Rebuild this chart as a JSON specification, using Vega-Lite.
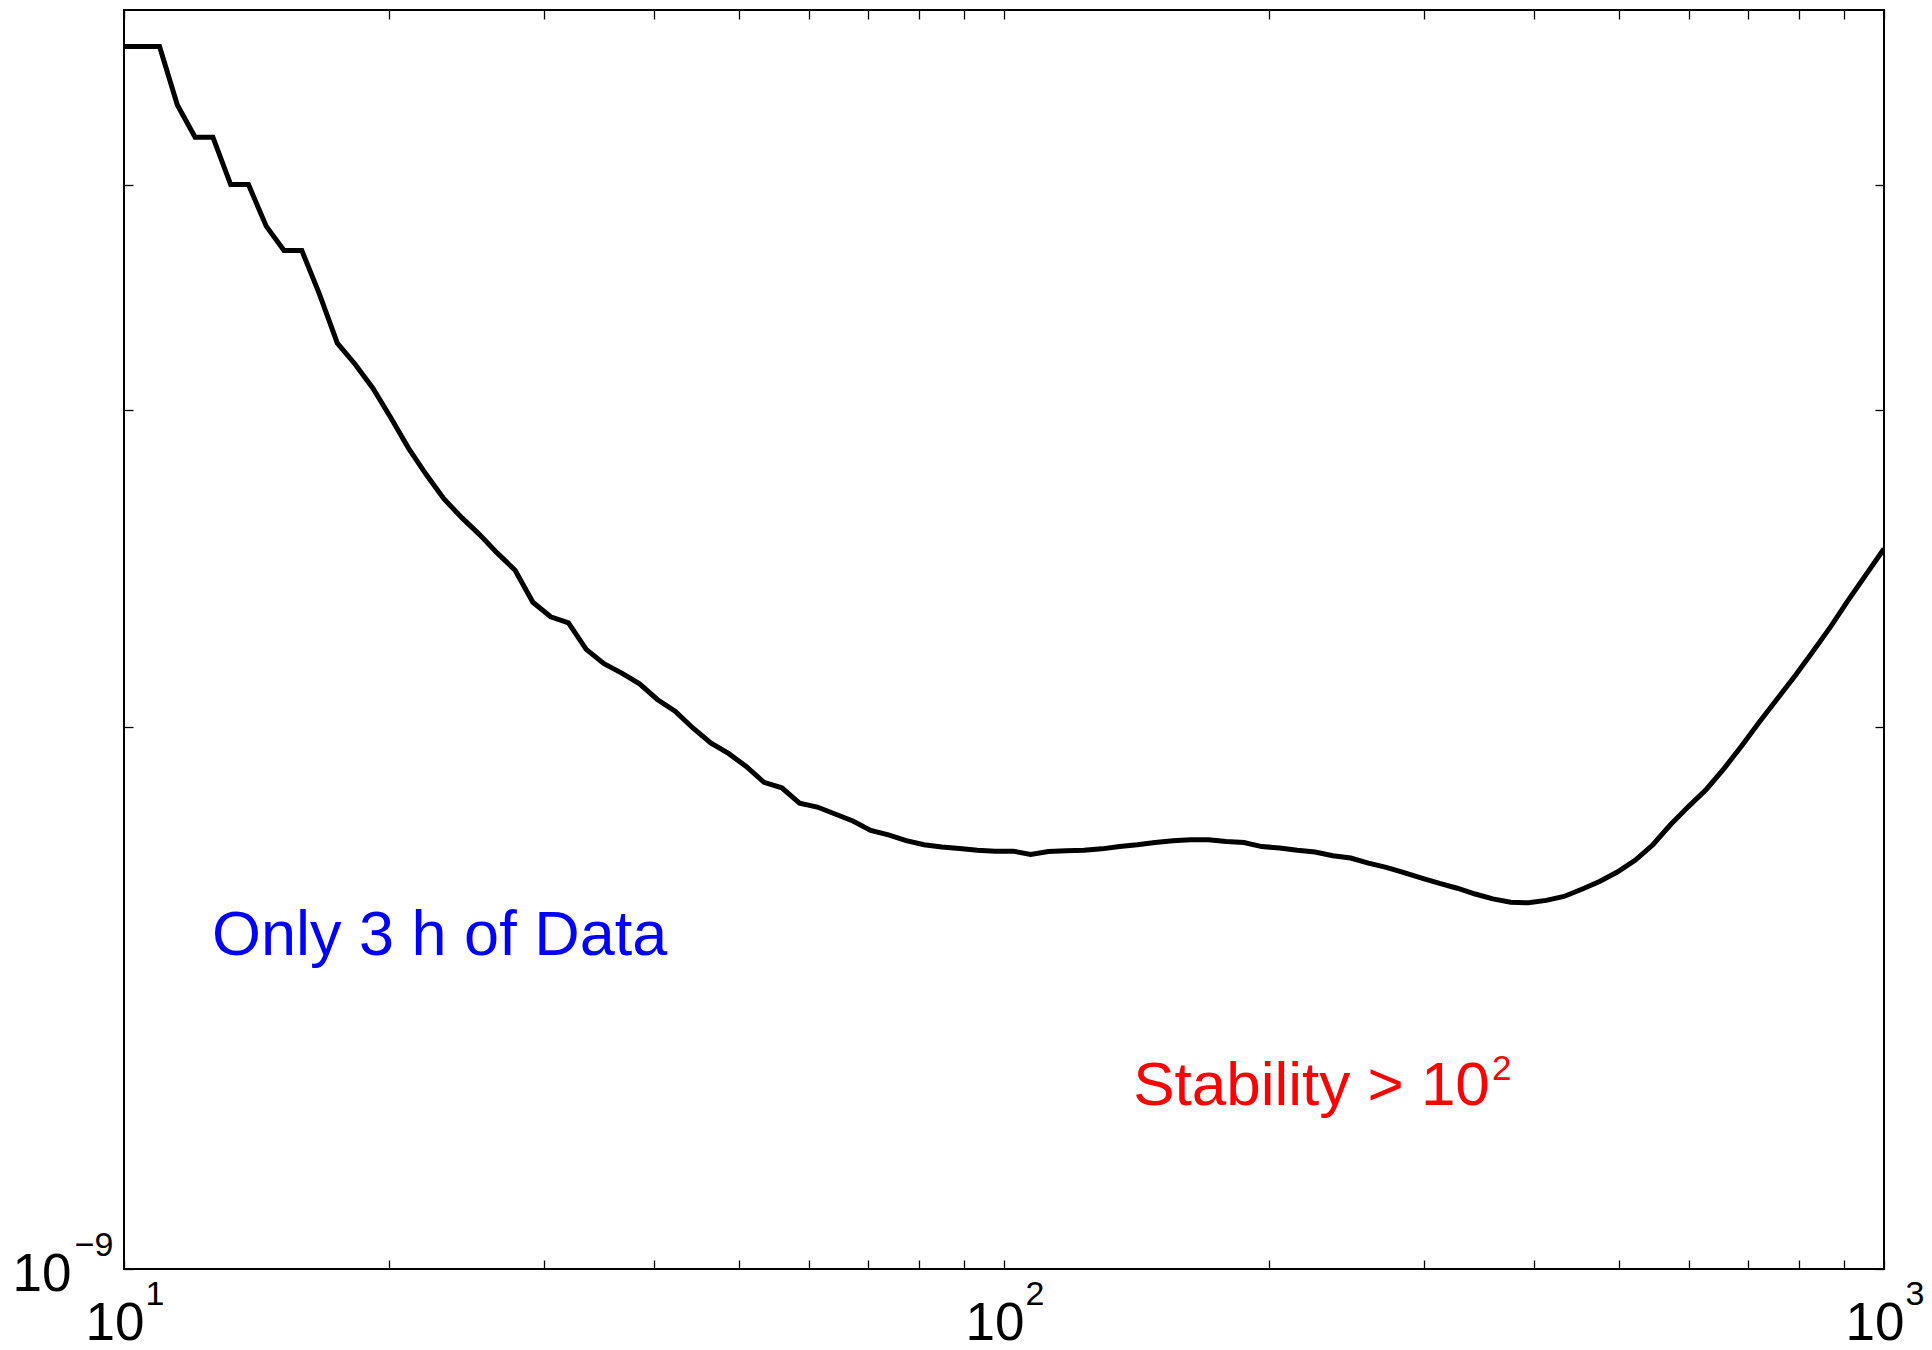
{
  "$schema": "https://vega.github.io/schema/vega-lite/v6.json",
  "width": 1760,
  "height": 1259,
  "autosize": {"type": "none"},
  "padding": {"left": 124, "top": 10, "right": 48, "bottom": 81},
  "background": "white",
  "config": {
    "view": {"stroke": "black", "strokeWidth": 2},
    "font": "Liberation Sans",
    "axis": {"grid": false, "domain": false, "tickColor": "black", "tickWidth": 1.3, "labelColor": "black", "labelFont": "Liberation Sans", "labelFlush": false, "labelOverlap": false, "labelBound": false, "title": null}
  },
  "datasets": {
    "curve": [
      {"tau": 10, "adev": 4.772e-9}, {"tau": 10.476, "adev": 4.772e-9}, {"tau": 10.975, "adev": 4.772e-9},
      {"tau": 11.498, "adev": 4.428e-9}, {"tau": 12.045, "adev": 4.25e-9}, {"tau": 12.619, "adev": 4.25e-9},
      {"tau": 13.219, "adev": 4.0e-9}, {"tau": 13.849, "adev": 4.0e-9}, {"tau": 14.508, "adev": 3.793e-9},
      {"tau": 15.199, "adev": 3.677e-9}, {"tau": 15.923, "adev": 3.677e-9}, {"tau": 16.681, "adev": 3.476e-9},
      {"tau": 17.475, "adev": 3.266e-9}, {"tau": 18.307, "adev": 3.179e-9}, {"tau": 19.179, "adev": 3.083e-9},
      {"tau": 20.092, "adev": 2.97e-9}, {"tau": 21.049, "adev": 2.856e-9}, {"tau": 22.051, "adev": 2.761e-9},
      {"tau": 23.101, "adev": 2.676e-9}, {"tau": 24.201, "adev": 2.613e-9}, {"tau": 25.354, "adev": 2.557e-9},
      {"tau": 26.561, "adev": 2.497e-9}, {"tau": 27.826, "adev": 2.443e-9}, {"tau": 29.151, "adev": 2.345e-9},
      {"tau": 30.539, "adev": 2.302e-9}, {"tau": 31.993, "adev": 2.284e-9}, {"tau": 33.516, "adev": 2.208e-9},
      {"tau": 35.112, "adev": 2.168e-9}, {"tau": 36.784, "adev": 2.142e-9}, {"tau": 38.535, "adev": 2.113e-9},
      {"tau": 40.37, "adev": 2.071e-9}, {"tau": 42.292, "adev": 2.04e-9}, {"tau": 44.306, "adev": 1.997e-9},
      {"tau": 46.416, "adev": 1.959e-9}, {"tau": 48.626, "adev": 1.933e-9}, {"tau": 50.941, "adev": 1.901e-9},
      {"tau": 53.367, "adev": 1.863e-9}, {"tau": 55.908, "adev": 1.85e-9}, {"tau": 58.57, "adev": 1.814e-9},
      {"tau": 61.359, "adev": 1.805e-9}, {"tau": 64.281, "adev": 1.789e-9}, {"tau": 67.342, "adev": 1.773e-9},
      {"tau": 70.548, "adev": 1.752e-9}, {"tau": 73.907, "adev": 1.742e-9}, {"tau": 77.426, "adev": 1.729e-9},
      {"tau": 81.113, "adev": 1.72e-9}, {"tau": 84.975, "adev": 1.715e-9}, {"tau": 89.022, "adev": 1.712e-9},
      {"tau": 93.26, "adev": 1.708e-9}, {"tau": 97.701, "adev": 1.706e-9}, {"tau": 102.353, "adev": 1.706e-9},
      {"tau": 107.227, "adev": 1.699e-9}, {"tau": 112.332, "adev": 1.705e-9}, {"tau": 117.681, "adev": 1.707e-9},
      {"tau": 123.285, "adev": 1.708e-9}, {"tau": 129.155, "adev": 1.711e-9}, {"tau": 135.305, "adev": 1.716e-9},
      {"tau": 141.747, "adev": 1.72e-9}, {"tau": 148.497, "adev": 1.725e-9}, {"tau": 155.568, "adev": 1.729e-9},
      {"tau": 162.975, "adev": 1.731e-9}, {"tau": 170.735, "adev": 1.731e-9}, {"tau": 178.865, "adev": 1.727e-9},
      {"tau": 187.382, "adev": 1.725e-9}, {"tau": 196.304, "adev": 1.716e-9}, {"tau": 205.651, "adev": 1.713e-9},
      {"tau": 215.443, "adev": 1.708e-9}, {"tau": 225.702, "adev": 1.704e-9}, {"tau": 236.449, "adev": 1.696e-9},
      {"tau": 247.708, "adev": 1.691e-9}, {"tau": 259.502, "adev": 1.68e-9}, {"tau": 271.859, "adev": 1.671e-9},
      {"tau": 284.804, "adev": 1.66e-9}, {"tau": 298.365, "adev": 1.648e-9}, {"tau": 312.572, "adev": 1.637e-9},
      {"tau": 327.455, "adev": 1.627e-9}, {"tau": 343.047, "adev": 1.615e-9}, {"tau": 359.381, "adev": 1.605e-9},
      {"tau": 376.494, "adev": 1.598e-9}, {"tau": 394.421, "adev": 1.597e-9}, {"tau": 413.201, "adev": 1.602e-9},
      {"tau": 432.876, "adev": 1.61e-9}, {"tau": 453.488, "adev": 1.625e-9}, {"tau": 475.081, "adev": 1.641e-9},
      {"tau": 497.702, "adev": 1.661e-9}, {"tau": 521.401, "adev": 1.686e-9}, {"tau": 546.228, "adev": 1.72e-9},
      {"tau": 572.237, "adev": 1.765e-9}, {"tau": 599.484, "adev": 1.806e-9}, {"tau": 628.029, "adev": 1.846e-9},
      {"tau": 657.933, "adev": 1.896e-9}, {"tau": 689.261, "adev": 1.952e-9}, {"tau": 722.081, "adev": 2.013e-9},
      {"tau": 756.463, "adev": 2.073e-9}, {"tau": 792.483, "adev": 2.135e-9}, {"tau": 830.218, "adev": 2.202e-9},
      {"tau": 869.749, "adev": 2.273e-9}, {"tau": 911.163, "adev": 2.352e-9}, {"tau": 954.548, "adev": 2.43e-9},
      {"tau": 1000, "adev": 2.511e-9}
    ]
  },
  "layer": [
    {
      "data": {"name": "curve"},
      "mark": {"type": "line", "color": "black", "strokeWidth": 5, "clip": true},
      "encoding": {
        "x": {
          "field": "tau", "type": "quantitative",
          "scale": {"type": "log", "domain": [10, 1000], "nice": false},
          "axis": {
            "orient": "bottom",
            "values": [10, 20, 30, 40, 50, 60, 70, 80, 90, 100, 200, 300, 400, 500, 600, 700, 800, 900, 1000],
            "tickSize": -9,
            "labelExpr": "(datum.value == 10 || datum.value == 100 || datum.value == 1000) ? '10' : ''",
            "labelFontSize": 53,
            "labelAlign": "right",
            "labelOffset": 20,
            "labelBaseline": "alphabetic",
            "labelPadding": 79,
            "encode": {"ticks": {"update": {"y2": {"signal": "(datum.value == 10 || datum.value == 100 || datum.value == 1000) ? -17 : -9"}}}}
          }
        },
        "y": {
          "field": "adev", "type": "quantitative",
          "scale": {"type": "log", "domain": [1e-9, 5e-9], "nice": false},
          "axis": {
            "orient": "left",
            "values": [1e-9, 2e-9, 3e-9, 4e-9],
            "tickSize": -9,
            "labelExpr": "datum.value < 1.5e-9 ? '10' : ''",
            "labelFontSize": 53,
            "labelAlign": "right",
            "labelBaseline": "alphabetic",
            "labelOffset": 21,
            "labelPadding": 62
          }
        }
      }
    },
    {
      "data": {"values": [{"tau": 12.589, "adev": 1.4944e-9, "label": "Only 3 h of Data"}]},
      "mark": {"type": "text", "align": "left", "baseline": "alphabetic", "fontSize": 63, "font": "Liberation Sans", "color": "#0000ff"},
      "encoding": {
        "x": {
          "field": "tau", "type": "quantitative",
          "scale": {"type": "log", "domain": [10, 1000], "nice": false},
          "axis": {
            "orient": "top",
            "values": [10, 20, 30, 40, 50, 60, 70, 80, 90, 100, 200, 300, 400, 500, 600, 700, 800, 900, 1000],
            "tickSize": -9,
            "labels": false,
            "encode": {"ticks": {"update": {"y2": {"signal": "(datum.value == 10 || datum.value == 100 || datum.value == 1000) ? 17 : 9"}}}}
          }
        },
        "y": {
          "field": "adev", "type": "quantitative",
          "scale": {"type": "log", "domain": [1e-9, 5e-9], "nice": false},
          "axis": {
            "orient": "right",
            "values": [1e-9, 2e-9, 3e-9, 4e-9],
            "tickSize": -9,
            "labels": false
          }
        },
        "text": {"field": "label"}
      }
    },
    {
      "data": {"values": [{"tau": 140.2, "adev": 1.2334e-9, "label": "Stability > 10"}]},
      "mark": {"type": "text", "align": "left", "baseline": "alphabetic", "fontSize": 62, "font": "Liberation Sans", "color": "#ff0000"},
      "encoding": {
        "x": {
          "field": "tau", "type": "quantitative",
          "scale": {"type": "log", "domain": [10, 1000], "nice": false},
          "axis": {
            "orient": "bottom",
            "values": [10, 100, 1000],
            "ticks": false,
            "tickSize": 0,
            "labelExpr": "datum.value == 10 ? '1' : datum.value == 100 ? '2' : '3'",
            "labelFontSize": 34,
            "labelAlign": "left",
            "labelOffset": 21,
            "labelBaseline": "alphabetic",
            "labelPadding": 35
          }
        },
        "y": {
          "field": "adev", "type": "quantitative",
          "scale": {"type": "log", "domain": [1e-9, 5e-9], "nice": false},
          "axis": {
            "orient": "left",
            "values": [1e-9],
            "ticks": false,
            "tickSize": 0,
            "labelExpr": "'\u22129'",
            "labelFontSize": 34,
            "labelAlign": "right",
            "labelBaseline": "alphabetic",
            "labelOffset": -14,
            "labelPadding": 11
          }
        },
        "text": {"field": "label"}
      }
    },
    {
      "data": {"values": [{"tau": 358.5, "adev": 1.2735e-9, "label": "2"}]},
      "mark": {"type": "text", "align": "left", "baseline": "alphabetic", "fontSize": 35, "font": "Liberation Sans", "color": "#ff0000"},
      "encoding": {
        "x": {"field": "tau", "type": "quantitative", "scale": {"type": "log", "domain": [10, 1000], "nice": false}, "axis": null},
        "y": {"field": "adev", "type": "quantitative", "scale": {"type": "log", "domain": [1e-9, 5e-9], "nice": false}, "axis": null},
        "text": {"field": "label"}
      }
    }
  ],
  "resolve": {"axis": {"x": "independent", "y": "independent"}}
}
